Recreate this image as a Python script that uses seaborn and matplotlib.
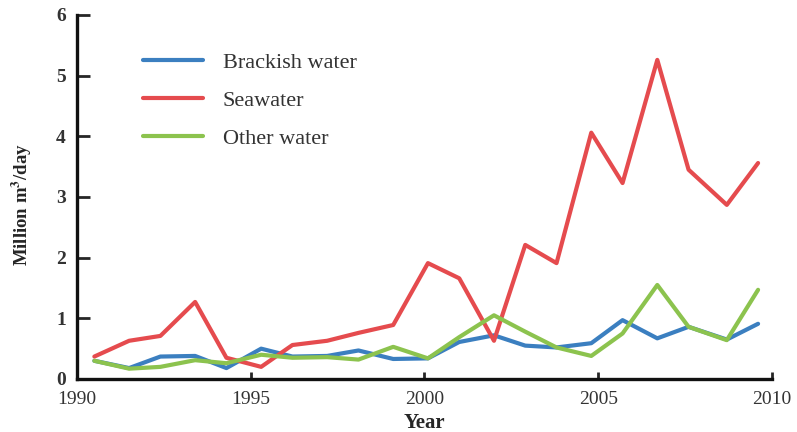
import matplotlib
matplotlib.use("Agg")
import matplotlib.pyplot as plt
import seaborn as sns
import pandas as pd

# Installed desalination capacity by feed water type (million m3/day)
years = [1990.5, 1991.5, 1992.4, 1993.4, 1994.3, 1995.3, 1996.2, 1997.2, 1998.1,
         1999.1, 2000.1, 2001.0, 2002.0, 2002.9, 2003.8, 2004.8, 2005.7, 2006.7,
         2007.6, 2008.7, 2009.6]
brackish = [0.30, 0.18, 0.37, 0.38, 0.18, 0.50, 0.37, 0.38, 0.47, 0.33, 0.34,
            0.61, 0.72, 0.55, 0.52, 0.59, 0.97, 0.67, 0.86, 0.65, 0.91]
seawater = [0.37, 0.63, 0.71, 1.27, 0.35, 0.20, 0.56, 0.63, 0.76, 0.89, 1.91,
            1.66, 0.63, 2.21, 1.91, 4.06, 3.23, 5.26, 3.45, 2.87, 3.56]
other = [0.30, 0.17, 0.20, 0.31, 0.26, 0.40, 0.35, 0.36, 0.32, 0.53, 0.34,
         0.69, 1.05, 0.78, 0.52, 0.38, 0.75, 1.55, 0.86, 0.64, 1.47]
series_names = ["Brackish water", "Seawater", "Other water"]
x_ticks = [1990, 1995, 2000, 2005, 2010]
y_ticks = [0, 1, 2, 3, 4, 5, 6]

df = pd.concat([
    pd.DataFrame({"Year": years, "value": vals, "source": name})
    for name, vals in zip(series_names, [brackish, seawater, other])
])

sns.set_style("white")
plt.rcParams["font.family"] = ["Liberation Serif", "DejaVu Serif"]
plt.rcParams["mathtext.fontset"] = "stix"

fig = plt.figure(figsize=(7.97, 4.32), dpi=100)
ax = fig.add_axes([0.0966, 0.1227, 0.8720, 0.8426])

palette = {"Brackish water": "#3b7fc0", "Seawater": "#e54b4e", "Other water": "#8cc34e"}
sns.lineplot(data=df, x="Year", y="value", hue="source", hue_order=series_names,
             palette=palette, linewidth=3.0, ax=ax, sort=False)

ax.set_xlim(1990, 2010)
ax.set_ylim(0, 6)
ax.set_xticks(x_ticks)
ax.set_yticks(y_ticks)
ax.set_xticklabels([str(t) for t in x_ticks], fontsize=14, color="#333333")
ax.set_yticklabels([str(t) for t in y_ticks], fontsize=14, color="#333333",
                   fontweight="bold")

for side in ["top", "right"]:
    ax.spines[side].set_visible(False)
for side in ["left", "bottom"]:
    ax.spines[side].set_linewidth(2.4)
    ax.spines[side].set_color("#111111")

ax.tick_params(axis="y", direction="in", length=9, width=2, pad=8, left=True)
ax.tick_params(axis="x", direction="in", length=5, width=2, pad=9, bottom=True)

ax.set_xlabel("Year", fontsize=15, fontweight="bold", labelpad=3)
ax.set_ylabel(r"Million m$^{\mathbf{3}}$/day", fontsize=13.5, fontweight="bold")
ax.yaxis.set_label_coords(-0.062, 0.48)

leg = ax.legend(loc="upper left", bbox_to_anchor=(0.082, 0.922), frameon=False,
                fontsize=16, handlelength=2.7, handletextpad=0.9,
                labelspacing=0.78, borderaxespad=0)
for line in leg.get_lines():
    line.set_linewidth(3.0)
for t in leg.get_texts():
    t.set_color("#333333")

fig.savefig("out.png", dpi=100, facecolor="white")
